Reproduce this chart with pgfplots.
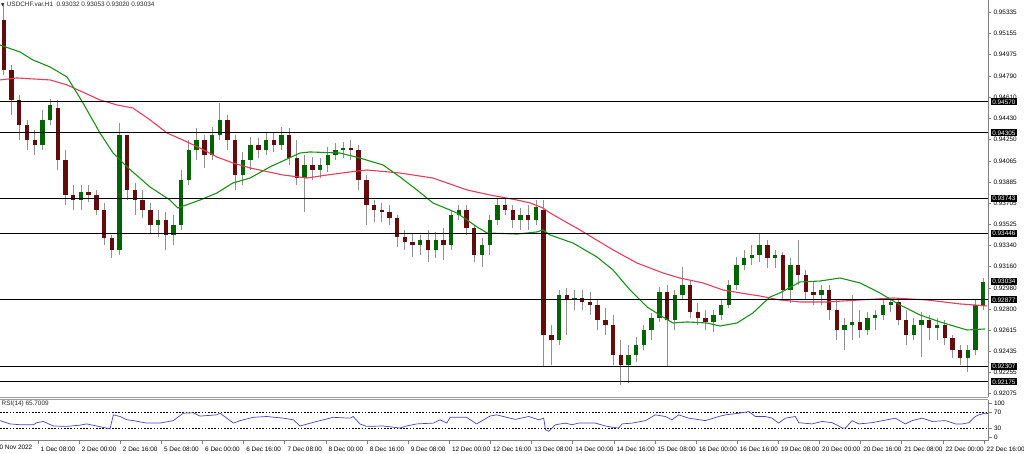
\documentclass[border=0pt]{standalone}
\usepackage{pgfplots}
\pgfplotsset{compat=1.18}
\usepackage{pgfplotstable}
\usepackage{fontspec}
\setmainfont{Liberation Sans}
\newfontfamily\symfont{DejaVu Sans}
\definecolor{bull}{RGB}{0,100,0}
\definecolor{bear}{RGB}{100,12,12}
\definecolor{wick}{RGB}{145,145,145}
\definecolor{maGreen}{RGB}{25,145,25}
\definecolor{maRed}{RGB}{232,60,90}
\definecolor{rsiBlue}{RGB}{70,70,185}
\newcommand\lblfont{\fontsize{6.4}{7}\selectfont}

% 3-hour candles: hour index, open, high, low, close
\pgfplotstableread{
x o h l c
1.5 0.95271 0.95399 0.94800 0.94843
4.5 0.94843 0.94886 0.94458 0.94587
7.5 0.94587 0.94629 0.94244 0.94373
10.5 0.94373 0.94416 0.94159 0.94244
13.5 0.94244 0.94330 0.94116 0.94202
16.5 0.94202 0.94501 0.94159 0.94416
19.5 0.94416 0.94595 0.94373 0.94544
22.5 0.94518 0.94587 0.93988 0.94073
25.5 0.94073 0.94159 0.93688 0.93774
28.5 0.93774 0.93860 0.93646 0.93731
31.5 0.93731 0.93860 0.93646 0.93800
34.5 0.93800 0.93860 0.93714 0.93774
37.5 0.93774 0.93817 0.93603 0.93646
40.5 0.93646 0.93706 0.93346 0.93406
43.5 0.93406 0.93432 0.93235 0.93304
46.5 0.93304 0.94390 0.93261 0.94287
49.5 0.94287 0.94287 0.93731 0.93817
52.5 0.93817 0.93877 0.93603 0.93731
55.5 0.93731 0.93817 0.93577 0.93646
58.5 0.93646 0.93706 0.93449 0.93517
61.5 0.93517 0.93646 0.93415 0.93560
64.5 0.93560 0.93629 0.93304 0.93432
67.5 0.93432 0.93603 0.93346 0.93517
70.5 0.93517 0.93988 0.93475 0.93902
73.5 0.93902 0.94244 0.93860 0.94159
76.5 0.94159 0.94347 0.94073 0.94244
79.5 0.94244 0.94287 0.94005 0.94116
82.5 0.94116 0.94356 0.94073 0.94287
85.5 0.94287 0.94561 0.94244 0.94416
88.5 0.94416 0.94458 0.94159 0.94244
91.5 0.94244 0.94287 0.93817 0.93945
94.5 0.93945 0.94142 0.93860 0.94073
97.5 0.94073 0.94270 0.93988 0.94202
100.5 0.94202 0.94262 0.94090 0.94159
103.5 0.94159 0.94313 0.94116 0.94244
106.5 0.94244 0.94304 0.94142 0.94202
109.5 0.94202 0.94356 0.94159 0.94287
112.5 0.94287 0.94347 0.94031 0.94090
115.5 0.94090 0.94244 0.93860 0.93919
118.5 0.93919 0.94116 0.93629 0.94031
121.5 0.94031 0.94099 0.93902 0.93988
124.5 0.93988 0.94090 0.93919 0.94031
127.5 0.94031 0.94185 0.93971 0.94116
130.5 0.94116 0.94219 0.94073 0.94159
133.5 0.94159 0.94227 0.94090 0.94176
136.5 0.94176 0.94244 0.94073 0.94159
139.5 0.94159 0.94202 0.93817 0.93902
142.5 0.93902 0.93945 0.93517 0.93688
145.5 0.93688 0.93731 0.93543 0.93646
148.5 0.93646 0.93706 0.93543 0.93629
151.5 0.93629 0.93688 0.93517 0.93577
154.5 0.93577 0.93603 0.93329 0.93415
157.5 0.93415 0.93475 0.93304 0.93372
160.5 0.93372 0.93449 0.93244 0.93346
163.5 0.93346 0.93432 0.93261 0.93389
166.5 0.93389 0.93475 0.93201 0.93304
169.5 0.93304 0.93458 0.93235 0.93389
172.5 0.93389 0.93492 0.93218 0.93346
175.5 0.93346 0.93646 0.93304 0.93603
178.5 0.93603 0.93688 0.93560 0.93646
181.5 0.93646 0.93688 0.93432 0.93492
184.5 0.93492 0.93517 0.93201 0.93261
187.5 0.93261 0.93406 0.93158 0.93346
190.5 0.93346 0.93603 0.93261 0.93560
193.5 0.93560 0.93748 0.93517 0.93688
196.5 0.93688 0.93757 0.93603 0.93646
199.5 0.93646 0.93688 0.93492 0.93560
202.5 0.93560 0.93663 0.93475 0.93603
205.5 0.93603 0.93688 0.93475 0.93560
208.5 0.93560 0.93731 0.93517 0.93671
211.5 0.93646 0.93731 0.92303 0.92576
214.5 0.92576 0.92662 0.92320 0.92534
217.5 0.92534 0.92961 0.92491 0.92919
220.5 0.92919 0.92978 0.92576 0.92876
223.5 0.92876 0.92961 0.92790 0.92893
226.5 0.92893 0.92961 0.92790 0.92859
229.5 0.92859 0.92944 0.92748 0.92833
232.5 0.92833 0.92876 0.92619 0.92705
235.5 0.92705 0.92807 0.92576 0.92662
238.5 0.92662 0.92748 0.92320 0.92405
241.5 0.92405 0.92534 0.92149 0.92320
244.5 0.92320 0.92491 0.92166 0.92405
247.5 0.92405 0.92559 0.92346 0.92491
250.5 0.92491 0.92662 0.92448 0.92619
253.5 0.92619 0.92765 0.92534 0.92722
256.5 0.92722 0.92987 0.92688 0.92944
259.5 0.92944 0.93004 0.92303 0.92705
262.5 0.92705 0.92961 0.92619 0.92919
265.5 0.92919 0.93158 0.92876 0.93004
268.5 0.93004 0.93047 0.92722 0.92773
271.5 0.92773 0.92850 0.92662 0.92722
274.5 0.92722 0.92790 0.92619 0.92688
277.5 0.92688 0.92790 0.92602 0.92748
280.5 0.92748 0.92876 0.92705 0.92833
283.5 0.92833 0.93047 0.92807 0.93004
286.5 0.93004 0.93244 0.92961 0.93175
289.5 0.93175 0.93304 0.93132 0.93235
292.5 0.93235 0.93346 0.93175 0.93261
295.5 0.93261 0.93449 0.93201 0.93346
298.5 0.93346 0.93389 0.93150 0.93235
301.5 0.93235 0.93304 0.93150 0.93261
304.5 0.93261 0.93286 0.92876 0.92961
307.5 0.92961 0.93235 0.92850 0.93175
310.5 0.93175 0.93389 0.93004 0.93090
313.5 0.93090 0.93132 0.92876 0.92944
316.5 0.92944 0.93030 0.92833 0.92919
319.5 0.92919 0.93004 0.92833 0.92961
322.5 0.92961 0.93004 0.92705 0.92790
325.5 0.92790 0.92876 0.92534 0.92619
328.5 0.92619 0.92722 0.92448 0.92662
331.5 0.92662 0.92919 0.92534 0.92688
334.5 0.92688 0.92790 0.92551 0.92619
337.5 0.92619 0.92773 0.92576 0.92722
340.5 0.92722 0.92790 0.92619 0.92748
343.5 0.92748 0.92876 0.92705 0.92833
346.5 0.92833 0.92893 0.92773 0.92859
349.5 0.92859 0.92893 0.92662 0.92705
352.5 0.92705 0.92790 0.92491 0.92576
355.5 0.92576 0.92722 0.92534 0.92662
358.5 0.92662 0.92773 0.92388 0.92705
361.5 0.92705 0.92748 0.92534 0.92636
364.5 0.92636 0.92722 0.92534 0.92662
367.5 0.92662 0.92705 0.92491 0.92551
370.5 0.92551 0.92576 0.92380 0.92448
373.5 0.92448 0.92491 0.92320 0.92380
376.5 0.92380 0.92491 0.92260 0.92448
379.5 0.92448 0.92876 0.92405 0.92833
382.5 0.92833 0.93064 0.92790 0.93034
}\candles

\pgfplotstableread{
x v
0 0.95057
7.8 0.94997
12.8 0.94929
19.5 0.94869
26.1 0.94783
32.3 0.94561
38.9 0.94304
44.0 0.94133
49.4 0.94014
58.4 0.93842
66.1 0.93731
69.2 0.93663
77.8 0.93731
84.4 0.93791
90.6 0.93877
97.3 0.93919
105.0 0.94014
116.7 0.94133
120.6 0.94142
132.3 0.94133
140.0 0.94090
149.0 0.94031
155.6 0.93928
162.2 0.93817
168.4 0.93706
177.8 0.93620
185.6 0.93500
189.5 0.93449
201.1 0.93440
208.9 0.93458
211.2 0.93475
214.0 0.93432
222.9 0.93363
232.2 0.93244
238.5 0.93132
245.1 0.92961
251.7 0.92816
257.9 0.92730
261.8 0.92679
267.3 0.92688
275.0 0.92679
280.1 0.92653
286.7 0.92679
292.9 0.92765
299.5 0.92901
303.4 0.92936
311.2 0.93030
319.0 0.93038
326.8 0.93064
334.6 0.93021
342.3 0.92936
350.1 0.92833
357.9 0.92748
365.7 0.92688
376.2 0.92619
383.2 0.92628
}\maFast

\pgfplotstableread{
x v
0 0.94758
6.6 0.94775
19.5 0.94758
26.1 0.94715
38.9 0.94587
45.5 0.94544
51.7 0.94518
58.4 0.94416
65.0 0.94304
71.2 0.94244
77.8 0.94176
84.4 0.94099
90.6 0.94048
97.3 0.94005
110.1 0.93945
119.4 0.93919
127.2 0.93945
136.2 0.93971
142.8 0.93988
155.6 0.93962
168.4 0.93919
181.7 0.93817
190.6 0.93774
201.1 0.93731
206.2 0.93706
211.2 0.93663
214.0 0.93620
225.6 0.93475
238.5 0.93304
247.8 0.93192
257.9 0.93107
264.5 0.93064
273.5 0.93021
281.3 0.92961
290.6 0.92927
295.6 0.92910
303.4 0.92876
311.2 0.92859
321.7 0.92859
334.6 0.92876
347.4 0.92893
360.6 0.92876
373.5 0.92842
384.0 0.92825
}\maSlow

\pgfplotstableread{
x v
0 49
3.9 41
7.8 39
13 39
14.3 44
16.9 47
20.7 36
25.9 35
31.1 38
33.7 41
37.6 36
42.8 29
44.1 63
46.7 59
49.3 51
51.9 49
57.1 43
62.2 43
67.4 49
71.3 67
75.2 68
77.8 60
84.3 63
85.6 67
90.8 43
93.4 49
98.5 57
103.7 59
110.2 55
114.1 51
116.7 36
123.2 47
129.7 57
136.2 55
137.4 59
140.0 41
142.6 35
149.1 36
155.6 31
158.2 36
162.1 41
168.6 43
171.2 51
173.8 43
175.1 57
181.5 57
185.4 41
190.6 60
193.2 63
198.4 55
200.5 52
205.7 59
209.6 51
211.5 55
212.2 27
213.5 23
216.1 39
219.9 43
222.5 39
225.1 43
231.6 43
235.5 36
238.1 33
240.7 31
242.0 41
245.9 43
251.1 49
254.9 63
258.8 59
261.4 51
264.0 63
267.9 55
274.4 49
279.6 59
282.2 63
287.4 67
291.3 71
293.9 59
297.7 59
300.3 55
302.9 43
305.5 55
309.4 59
310.7 44
315.9 41
319.8 47
323.7 44
326.3 36
327.6 31
328.9 31
331.5 49
334.1 41
339.2 44
341.8 47
348.3 55
352.2 41
354.8 49
358.7 55
362.6 47
367.8 49
371.7 41
374.3 41
376.9 44
379.4 59
380.7 63
383.3 67
384.3 66
}\rsi

\begin{document}
\begin{tikzpicture}
\useasboundingbox (0,0) rectangle (1024pt,-453pt);

\begin{axis}[
  name=main, at={(0,0)}, anchor=north west,
  scale only axis, width=988pt, height=397pt,
  xmin=0, xmax=384.35, ymin=0.92046, ymax=0.95442,
  axis x line=none, axis y line*=right,
  axis line style={draw=gray, line width=0.8pt},
  scaled y ticks=false,
  ytick={0.95335,0.95155,0.94975,0.94790,0.94610,0.94430,0.94250,0.94065,0.93885,0.93705,0.93525,0.93340,0.93160,0.92980,0.92800,0.92615,0.92435,0.92255,0.92075},
  yticklabels={0.95335,0.95155,0.94975,0.94790,0.94610,0.94430,0.94250,0.94065,0.93885,0.93705,0.93525,0.93340,0.93160,0.92980,0.92800,0.92615,0.92435,0.92255,0.92075},
  tick align=outside, major tick length=3pt,
  tick style={gray, line width=0.6pt},
  yticklabel style={font=\lblfont, anchor=west, xshift=-1pt, text=black},
  clip=true,
]
% wicks
\addplot[draw=none, no markers, forget plot,
  error bars/.cd, y dir=both, y explicit, error mark=none,
  error bar style={draw=wick, line width=0.9pt}]
  table[x=x, y expr={(\thisrow{h}+\thisrow{l})/2}, y error expr={(\thisrow{h}-\thisrow{l})/2}] {\candles};
% bullish bodies
\addplot[draw=none, no markers, forget plot,
  error bars/.cd, y dir=both, y explicit, error mark=none,
  error bar style={draw=bull, line width=4.4pt}]
  table[x=x, y expr={\thisrow{c}>=\thisrow{o} ? (\thisrow{o}+\thisrow{c})/2 : 0.85}, y error expr={abs(\thisrow{c}-\thisrow{o})/2+0.000012}] {\candles};
% bearish bodies
\addplot[draw=none, no markers, forget plot,
  error bars/.cd, y dir=both, y explicit, error mark=none,
  error bar style={draw=bear, line width=4.4pt}]
  table[x=x, y expr={\thisrow{c}<\thisrow{o} ? (\thisrow{o}+\thisrow{c})/2 : 0.85}, y error expr={abs(\thisrow{c}-\thisrow{o})/2+0.000012}] {\candles};
% moving averages
\addplot[maRed, line width=1.1pt, mark=none] table[x=x, y=v] {\maSlow};
\addplot[maGreen, line width=1.1pt, mark=none] table[x=x, y=v] {\maFast};
% horizontal levels
\pgfplotsinvokeforeach{0.94570,0.94305,0.93743,0.93446,0.92877,0.92307,0.92175}{
  \addplot[black, line width=1.1pt, mark=none, forget plot] coordinates {(0,#1) (384.35,#1)};
}
\coordinate (B1) at (axis cs:384.35,0.94570);
\coordinate (B2) at (axis cs:384.35,0.94305);
\coordinate (B3) at (axis cs:384.35,0.93743);
\coordinate (B4) at (axis cs:384.35,0.93446);
\coordinate (B5) at (axis cs:384.35,0.93034);
\coordinate (B6) at (axis cs:384.35,0.92877);
\coordinate (B7) at (axis cs:384.35,0.92307);
\coordinate (B8) at (axis cs:384.35,0.92175);
\end{axis}

\foreach \c/\t in {B1/0.94570,B2/0.94305,B3/0.93743,B4/0.93446,B5/0.93034,B6/0.92877,B7/0.92307,B8/0.92175}{
  \node[fill=black, text=white, anchor=west, inner xsep=1.6pt, inner ysep=1.2pt, font=\lblfont] at ([xshift=2.5pt]\c) {\t};
}

% separator between panels
\draw[gray!75, line width=0.7pt] (0,-397.2pt) -- (988pt,-397.2pt);
\draw[gray!75, line width=0.7pt] (0,-399.2pt) -- (988pt,-399.2pt);

\begin{axis}[
  name=rsi, at={(0,-399.6pt)}, anchor=north west,
  scale only axis, width=988pt, height=41.2pt,
  xmin=0, xmax=384.35, ymin=0, ymax=100,
  axis x line*=bottom, axis y line*=right,
  axis line style={draw=gray, line width=0.8pt},
  xtick={14.78,30.78,...,383},
  xticklabels={1 Dec 08:00,2 Dec 00:00,2 Dec 16:00,5 Dec 08:00,6 Dec 00:00,6 Dec 16:00,7 Dec 08:00,8 Dec 00:00,8 Dec 16:00,9 Dec 08:00,12 Dec 00:00,12 Dec 16:00,13 Dec 08:00,14 Dec 00:00,14 Dec 16:00,15 Dec 08:00,16 Dec 00:00,16 Dec 16:00,19 Dec 08:00,20 Dec 00:00,20 Dec 16:00,21 Dec 08:00,22 Dec 00:00,22 Dec 16:00},
  ytick={9,30,70,92}, yticklabels={0,30,70,100},
  tick align=outside, major tick length=3.5pt,
  tick style={gray, line width=0.6pt},
  xticklabel style={font=\lblfont, anchor=north west, xshift=-0.8pt, yshift=1pt, text=black},
  yticklabel style={font=\lblfont, anchor=west, xshift=-1pt, text=black},
  clip=true,
]
\pgfplotsinvokeforeach{30,70}{
  \addplot[black, line width=0.6pt, dash pattern=on 1.6pt off 1.6pt, mark=none, forget plot] coordinates {(0,#1) (384.35,#1)};
}
\addplot[rsiBlue, line width=0.7pt, mark=none] table[x=x, y=v] {\rsi};
\end{axis}

\node[anchor=west, inner sep=0pt, font=\lblfont, text=black!85] at (1.5pt,-404pt) {RSI(14) 65.7009};
\node[anchor=west, inner sep=0pt, font=\lblfont, text=black] at (-4.2pt,-447.5pt) {30 Nov 2022};
\node[anchor=west, inner sep=0pt, font=\lblfont, text=black!85] at (1pt,-5pt) {{\symfont\fontsize{4.5}{5}\selectfont ▼}\hspace{2.2pt}USDCHF.var,H1\hspace{3.5pt}0.93032 0.93053 0.93020 0.93034};
\end{tikzpicture}
\end{document}
